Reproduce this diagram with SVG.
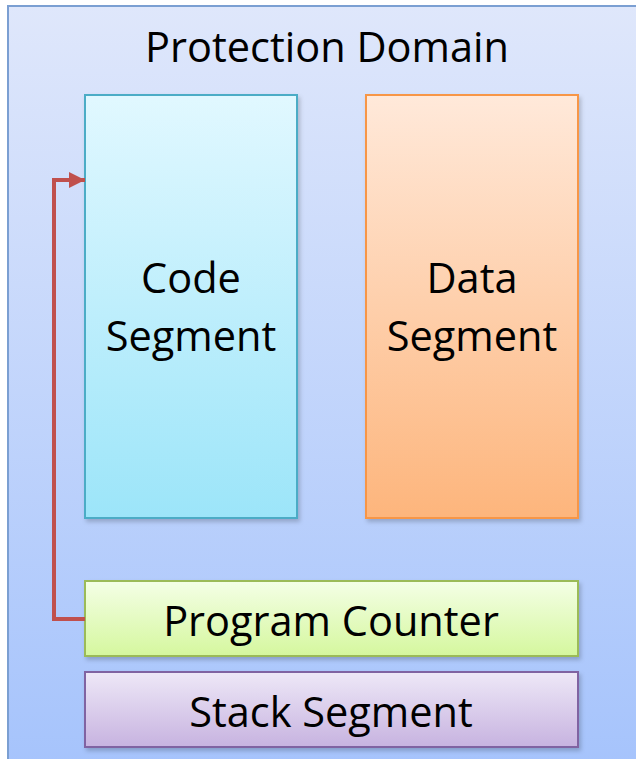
<svg xmlns="http://www.w3.org/2000/svg" width="636" height="759" viewBox="0 0 636 759">
<defs>
<linearGradient id="gBg" x1="0" y1="0" x2="0" y2="1"><stop offset="0" stop-color="#dfe7fb"/><stop offset="1" stop-color="#a5c3fc"/></linearGradient>
<linearGradient id="gCode" x1="0" y1="0" x2="0" y2="1"><stop offset="0" stop-color="#e1f8ff"/><stop offset="1" stop-color="#9ce5f9"/></linearGradient>
<linearGradient id="gData" x1="0" y1="0" x2="0" y2="1"><stop offset="0" stop-color="#ffe9da"/><stop offset="1" stop-color="#fdb57c"/></linearGradient>
<linearGradient id="gPc" x1="0" y1="0" x2="0" y2="1"><stop offset="0" stop-color="#f4ffe6"/><stop offset="1" stop-color="#d5f79e"/></linearGradient>
<linearGradient id="gStack" x1="0" y1="0" x2="0" y2="1"><stop offset="0" stop-color="#eee8f7"/><stop offset="1" stop-color="#c7b3e0"/></linearGradient>
<filter id="sh" x="-10%" y="-10%" width="120%" height="120%"><feDropShadow dx="2" dy="3" stdDeviation="2" flood-color="#000" flood-opacity="0.2"/></filter>
<marker id="arr" viewBox="0 0 10 10" refX="10" refY="5" markerWidth="4" markerHeight="4" orient="auto" markerUnits="strokeWidth"><path d="M0,0 L10,5 L0,10 z" fill="#c0504d"/></marker>
</defs>
<style>
text{font-family:"Open Sans","Noto Sans",sans-serif;fill:#000;text-anchor:middle}
.big{font-size:41.5px}
.box{stroke-width:2}
</style>
<g id="domain">
<rect x="8" y="6" width="640" height="770" fill="url(#gBg)" stroke="#7b9fd2" stroke-width="2"/>
<text class="big" x="327" y="62">Protection Domain</text>
</g>
<g id="code">
<rect class="box" x="85" y="95" width="212" height="423" fill="url(#gCode)" stroke="#4bacc6" filter="url(#sh)"/>
<text class="big" x="191" y="293">Code</text>
<text class="big" x="191" y="351">Segment</text>
</g>
<g id="data">
<rect class="box" x="366" y="95" width="212" height="423" fill="url(#gData)" stroke="#f79646" filter="url(#sh)"/>
<text class="big" x="472" y="293">Data</text>
<text class="big" x="472" y="351">Segment</text>
</g>
<g id="pc">
<rect class="box" x="85" y="581" width="493" height="75" fill="url(#gPc)" stroke="#9bbb59" filter="url(#sh)"/>
<text class="big" x="331" y="636">Program Counter</text>
</g>
<g id="stack">
<rect class="box" x="85" y="672" width="493" height="75" fill="url(#gStack)" stroke="#8064a2" filter="url(#sh)"/>
<text class="big" x="331" y="727">Stack Segment</text>
</g>
<g id="connectors">
<path d="M85,619 H54 V180 H85" fill="none" stroke="#c0504d" stroke-width="4" marker-end="url(#arr)"/>
</g>
</svg>
